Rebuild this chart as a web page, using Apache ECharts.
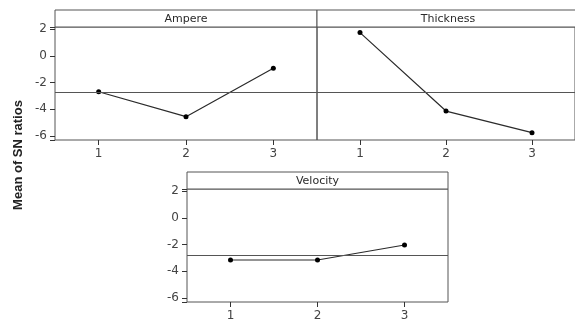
<!DOCTYPE html>
<html>
<head>
<meta charset="utf-8">
<script src="https://cdn.jsdelivr.net/npm/echarts@6/dist/echarts.min.js"></script>
<style>
  html, body { margin: 0; padding: 0; background: #fff; }
  #chart { width: 575px; height: 322px; }
</style>
</head>
<body>
<div id="chart"></div>
<script>
// main effects plot for SN ratios - 3 panels, one per factor
const levels = [1, 2, 3];
const panelNames = ["Ampere", "Thickness", "Velocity"];
const ampere = [-2.68, -4.55, -0.92];
const thickness = [1.75, -4.13, -5.75];
const velocity = [-3.15, -3.15, -2.03];
const yTicks = [-6, -4, -2, 0, 2];
const yAxisTitle = "Mean of SN ratios";

const seriesData = [ampere, thickness, velocity];
// panel boxes: [left, top(strip), width, stripH, plotH]
const boxes = [
  [55, 10, 262, 17, 113],
  [317, 10, 262, 17, 113],
  [187, 172, 261, 17, 113],
];
const ink = "#2a2a2a";
const frame = "#555";
const tickStyle = { color: "#333", width: 1 };
const labelStyle = { color: "#444", fontSize: 12, fontFamily: "DejaVu Sans" };

const chart = echarts.init(document.getElementById("chart"), null, { renderer: "canvas" });

const grid = boxes.map((b) => ({
  left: b[0], top: b[1] + b[3], width: b[2], height: b[4],
  show: true, borderColor: frame, borderWidth: 1, backgroundColor: "transparent",
}));

// value axis 0.5..3.5 so levels sit where a category axis would put them
const xAxis = boxes.map((b, i) => ({
  type: "value", gridIndex: i, min: 0.5, max: 3.5, splitNumber: 3,
  splitLine: { show: false },
  axisLine: { show: false, onZero: false },
  axisTick: { show: true, length: 5, lineStyle: tickStyle },
  axisLabel: { ...labelStyle, margin: 8, showMinLabel: false, showMaxLabel: false,
    formatter: (v) => (Number.isInteger(v) ? String(v) : "") },
}));

const yAxis = boxes.map((b, i) => ({
  type: "value", gridIndex: i, min: -6.3, max: 2.17,
  splitLine: { show: false },
  axisLine: { show: false, onZero: false },
  axisTick: { show: i !== 1, length: 5, lineStyle: tickStyle },
  axisLabel: { ...labelStyle, show: i !== 1, customValues: yTicks, margin: 8 },
}));

const series = seriesData.map((d, i) => ({
  type: "line", xAxisIndex: i, yAxisIndex: i,
  data: d.map((v, k) => [levels[k], v]),
  symbol: "circle", symbolSize: 5,
  itemStyle: { color: "#000" },
  lineStyle: { color: ink, width: 1.2 },
  markLine: {
    silent: true, symbol: "none", label: { show: false },
    lineStyle: { color: frame, width: 1, type: "solid" },
    data: [{ type: "average", valueIndex: 1 }],
  },
}));

const graphic = [];
boxes.forEach((b, i) => {
  graphic.push({
    type: "rect", shape: { x: b[0], y: b[1], width: b[2], height: b[3] },
    style: { fill: "#fff", stroke: frame, lineWidth: 1 },
  });
  graphic.push({
    type: "text", x: b[0] + b[2] / 2, y: b[1] + b[3] / 2 + 1,
    style: { text: panelNames[i], fill: ink, font: "11px 'DejaVu Sans'", textAlign: "center", textVerticalAlign: "middle" },
  });
});
graphic.push({
  type: "text", x: 18, y: 155, rotation: Math.PI / 2,
  style: { text: yAxisTitle, fill: "#222", font: "bold 13px 'Liberation Sans'", textAlign: "center", textVerticalAlign: "middle" },
});

chart.setOption({
  animation: false,
  grid, xAxis, yAxis, series, graphic,
});
</script>
</body>
</html>
